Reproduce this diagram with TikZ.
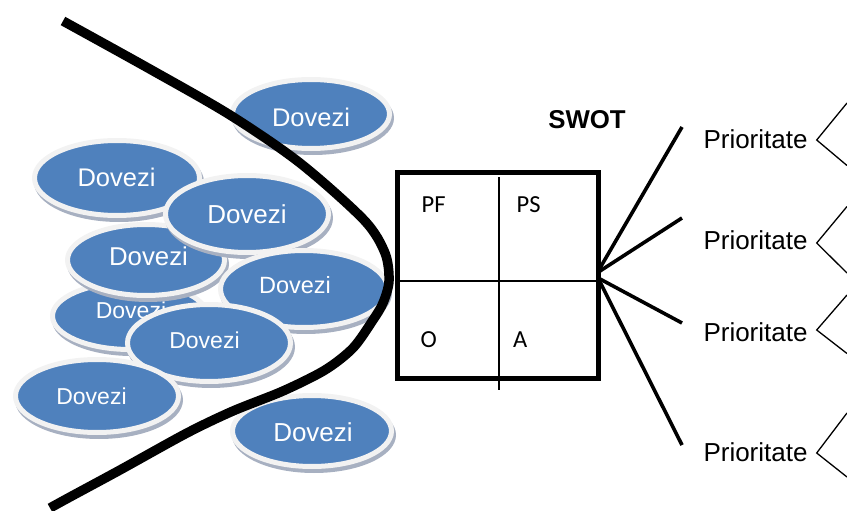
\documentclass[tikz,border=0pt]{standalone}
\usepackage{fontspec}
\setmainfont{Liberation Sans}
\newfontfamily\carl{Carlito}
\usetikzlibrary{shapes.geometric}
\definecolor{dblue}{HTML}{4F81BD}
\definecolor{ringc}{HTML}{F2F2F2}
\definecolor{shadowc}{HTML}{A7B0C1}
\tikzset{
  disc/.style={ellipse, fill=dblue, draw=ringc, line width=5pt, inner sep=0pt},
  dtext/.style={text=white, inner sep=0pt},
  boxlbl/.style={inner sep=0pt, anchor=west, font=\carl\fontsize{24.5}{26}\selectfont},
  prio/.style={inner sep=0pt, anchor=base west, font=\fontsize{26}{28}\selectfont},
  fan/.style={line width=3.6pt},
  brk/.style={line width=1.3pt},
}
\newcommand\dovezi[8]{%
  \fill[shadowc] (#2+2,#3+4) ellipse[x radius=#4pt, y radius=#5pt];
  \node[disc, minimum width=2*#4pt-5pt, minimum height=2*#5pt-5pt] (#1) at (#2,#3) {};
  \node[dtext, font=\fontsize{#8}{#8}\selectfont] (#1t) at (#6,#7) {Dovezi};
}
\begin{document}
\begin{tikzpicture}[x=1pt,y=-1pt]
\useasboundingbox (0,0) rectangle (847,511);
% ellipses, back to front
\dovezi{e2}{117}{178}{85}{40}{116.5}{177.5}{25.5}
\dovezi{e5}{130}{316}{80}{36}{131}{310.5}{23}
\dovezi{e4}{146}{260}{81}{38}{148.5}{256}{25.8}
\dovezi{e3}{247}{214}{84}{41}{247}{214}{26}
\dovezi{e6}{304}{289}{86}{41}{295}{285}{23.5}
\dovezi{e7}{209}{343}{84}{41}{204.5}{340.5}{23}
\dovezi{e8}{97}{396}{84}{39}{91.5}{396.5}{23}
\dovezi{e9}{312}{431}{82}{38}{313}{432}{26}
\dovezi{e1}{311}{114}{81}{37}{311}{117.5}{25.5}
% the curve
\draw[line width=9.5pt] plot[smooth, tension=0.5] coordinates {(63,21) (148,68) (230,115) (300,163) (364,220) (385,253) (389,281) (383,303) (373,320) (353,348) (325,370) (283,391) (233,411) (187,433) (120,470) (70,497) (50,508)};
% SWOT box
\node[inner sep=0pt, font=\bfseries\fontsize{25.8}{28}\selectfont] (swot) at (587,119.5) {SWOT};
\coordinate (vt) at (499,177);
\coordinate (vb) at (499,390);
\coordinate (hl) at (397,281);
\coordinate (hr) at (600,281);
\draw[line width=1.8pt] (vt) -- (vb);
\draw[line width=1.8pt] (hl) -- (hr);
\draw[line width=5pt] (397.5,172.5) rectangle (598.5,378.5);
\node[boxlbl] (pf) at (421.5,204.5) {PF};
\node[boxlbl] (ps) at (516.5,204.5) {PS};
\node[boxlbl] (o) at (420.5,340) {O};
\node[boxlbl] (a) at (513,340) {A};
% fan
\coordinate (fa) at (600,268);
\coordinate (fb) at (600,271);
\coordinate (fc) at (600,279);
\coordinate (fd) at (600,282);
\coordinate (ea) at (682,127);
\coordinate (eb) at (682,218);
\coordinate (ec) at (682,323);
\coordinate (ed) at (682,445);
\draw[fan] (fa) -- (ea);
\draw[fan] (fb) -- (eb);
\draw[fan] (fc) -- (ec);
\draw[fan] (fd) -- (ed);
\node[prio] (p1) at (703.3,148) {Prioritate};
\node[prio] (p2) at (703.3,249) {Prioritate};
\node[prio] (p3) at (703.3,341) {Prioritate};
\node[prio] (p4) at (703.3,461) {Prioritate};
% brackets
\coordinate (b1) at (816.7,140);
\coordinate (b1u) at (847,103);
\coordinate (b1d) at (847,165.5);
\coordinate (b2) at (816.7,243);
\coordinate (b2u) at (847,206.5);
\coordinate (b2d) at (847,273);
\coordinate (b3) at (816.7,330);
\coordinate (b3u) at (847,295);
\coordinate (b3d) at (847,353.5);
\coordinate (b4) at (816.7,453);
\coordinate (b4u) at (847,413);
\coordinate (b4d) at (847,477);
\draw[brk] (b1u) -- (b1) -- (b1d);
\draw[brk] (b2u) -- (b2) -- (b2d);
\draw[brk] (b3u) -- (b3) -- (b3d);
\draw[brk] (b4u) -- (b4) -- (b4d);
\end{tikzpicture}
\end{document}
